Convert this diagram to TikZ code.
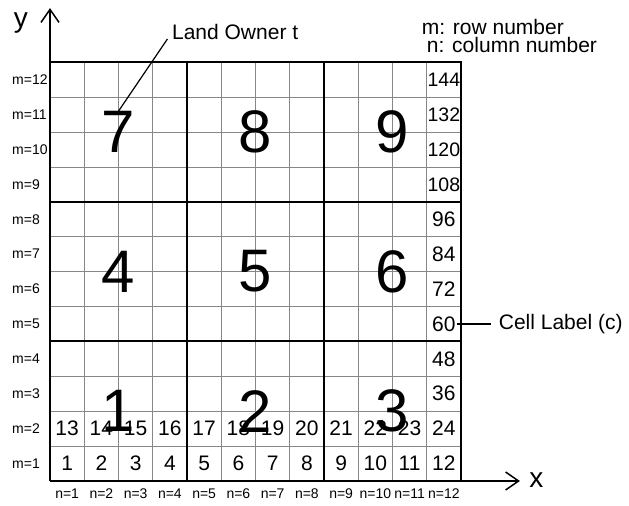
\documentclass[tikz,border=0pt]{standalone}
\usepackage{fontspec}
\setmainfont{Liberation Sans}
\usepackage{tikz}
\usetikzlibrary{arrows.meta,positioning}
\definecolor{gridgray}{RGB}{135,135,135}
\tikzset{
  cellline/.style={draw=gridgray,line width=0.7pt},
  blockline/.style={draw=black,line width=1.8pt},
  axis/.style={-{Straight Barb[length=13pt,width=18pt,line width=1.5pt]},line width=1.6pt},
  axislabel/.style={font=\fontsize{28}{28}\selectfont,inner sep=0pt},
  cellnum/.style={font=\fontsize{21}{21}\selectfont,inner sep=1pt},
  widenum/.style={font=\fontsize{19.5}{19.5}\selectfont},
  bignum/.style={font=\fontsize{60}{60}\selectfont,inner sep=0pt},
  idx/.style={font=\fontsize{14}{14}\selectfont,inner sep=0pt},
  note/.style={font=\fontsize{21}{21}\selectfont,inner sep=0pt},
  pointer/.style={line width=1.2pt},
}

\begin{document}
\begin{tikzpicture}[x=34.25pt,y=34.9pt]
  \useasboundingbox (-1.46,-0.716) rectangle (16.905,13.782);
  % cell grid
  \foreach \i in {1,...,11} {
    \draw[cellline] (\i,0) -- (\i,12);
    \draw[cellline] (0,\i) -- (12,\i);
  }
  % land blocks
  \foreach \i in {4,8} {
    \draw[blockline] (\i,0) -- (\i,12);
    \draw[blockline] (0,\i) -- (12,\i);
  }
  \draw[blockline] (0,12) -- (12,12) -- (12,0);
  % axes
  \coordinate (O) at (0,0);
  \coordinate (ytip) at (0,13.55);
  \coordinate (xtip) at (13.72,0);
  \draw[axis] (O) -- (ytip);
  \draw[axis] (O) -- (xtip);
  \node[axislabel,anchor=base] (ylab) at (-0.85,13.0) {y};
  \node[axislabel,anchor=base] (xlab) at (14.2,-0.2) {x};
  % row / column indices and cell labels
  \foreach \n in {1,...,12} {
    \pgfmathtruncatemacro\k{\n+12}
    \node[cellnum] (c\n) at (\n-0.5,0.5) {\n};
    \node[cellnum] (c\k) at (\n-0.5,1.5) {\k};
    \node[idx] (n\n) at (\n-0.5,-0.37) {n=\n};
    \node[idx,anchor=west] (m\n) at (-1.11,\n-0.5) {m=\n};
  }
  \foreach \m in {3,...,8} {
    \pgfmathtruncatemacro\k{12*\m}
    \node[cellnum] (c\k) at (11.5,\m-0.5) {\k};
  }
  \foreach \m in {9,...,12} {
    \pgfmathtruncatemacro\k{12*\m}
    \node[cellnum,widenum] (c\k) at (11.5,\m-0.5) {\k};
  }
  % land owners
  \foreach \j in {0,1,2} {
    \foreach \i in {0,1,2} {
      \pgfmathtruncatemacro\b{3*\j+\i+1}
      \node[bignum] (b\b) at (4*\i+2,4*\j+2) {\b};
    }
  }
  % notes
  \node[note,anchor=base west] (owner) at (3.56,12.64) {Land Owner t};
  \draw[pointer,shorten <=8pt] (owner.west) -- (b7.north);
  \node[note,anchor=base west] (mnote) at (10.85,12.78) {m: row number};
  \node[note,anchor=base west] (nnote) at (11.0,12.29) {n: column number};
  \node[note,anchor=west] (clabel) at (13.1,4.5) {Cell Label (c)};
  \draw[pointer,shorten >=8pt] (c60.east) -- (clabel.west);
\end{tikzpicture}
\end{document}
